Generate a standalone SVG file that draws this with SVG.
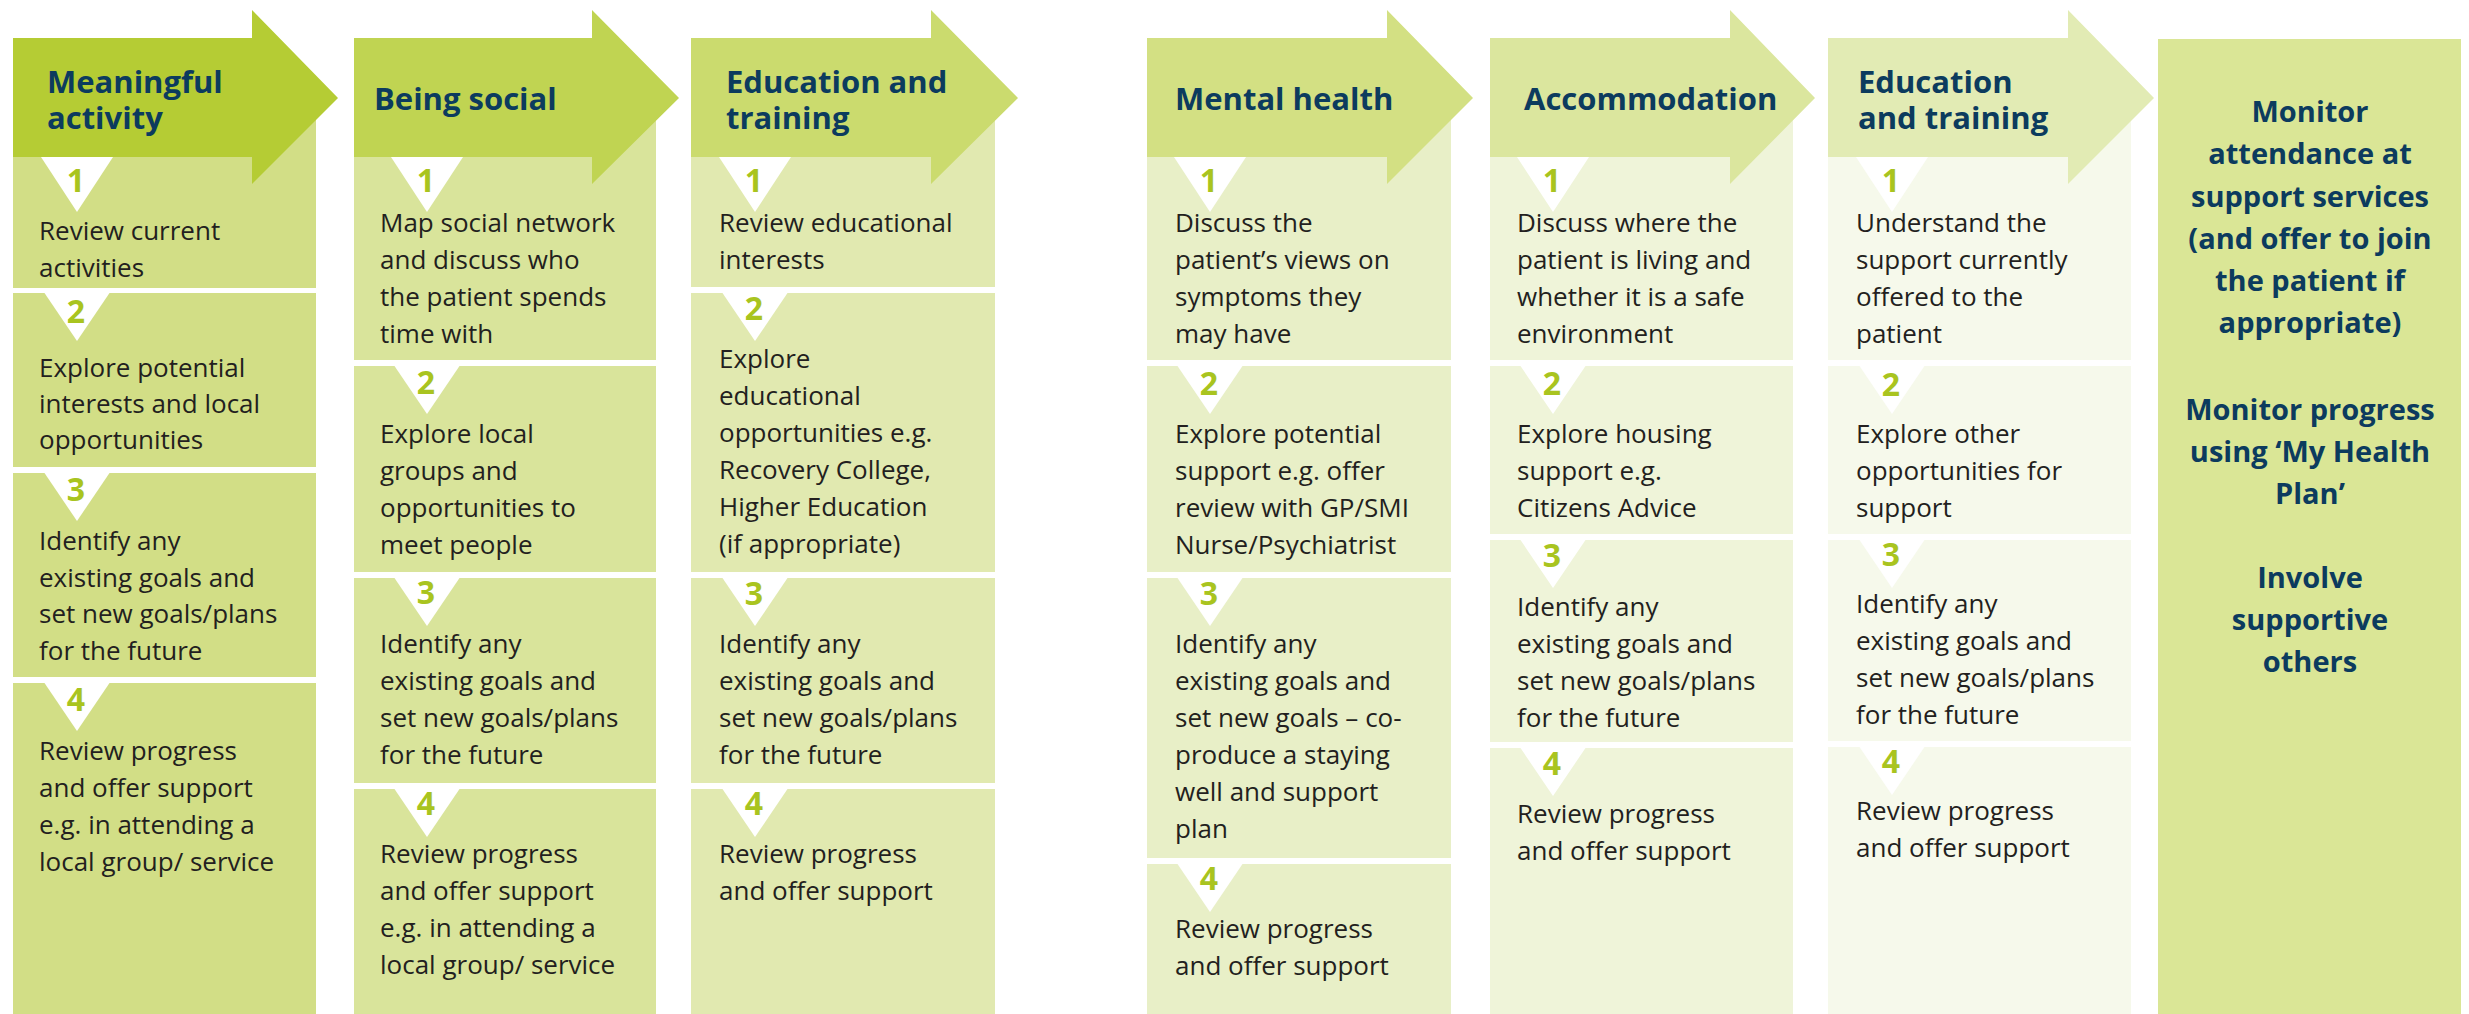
<svg xmlns="http://www.w3.org/2000/svg" width="2469" height="1014" viewBox="0 0 2469 1014">
  <style>
    text { font-family: "Open Sans", "Noto Sans", "Liberation Sans", sans-serif; }
    .hd { font-size: 31px; font-weight: 700; fill: #0c3b5e; }
    .bt { font-size: 26px; font-weight: 400; fill: #231f20; }
    .num { font-size: 32px; font-weight: 700; fill: #a9c41f; text-anchor: middle; }
    .mon { font-size: 29px; font-weight: 700; fill: #0c3b5e; text-anchor: middle; }
    .tri { fill: #ffffff; }
  </style>

  <rect width="2469" height="1014" fill="#ffffff"/>

  <!-- Column 1: Meaningful activity -->
  <g id="meaningful-activity">
    <g fill="#d2de86">
      <rect x="13" y="100" width="303" height="188"/>
      <rect x="13" y="293" width="303" height="174"/>
      <rect x="13" y="473" width="303" height="204"/>
      <rect x="13" y="683" width="303" height="331"/>
    </g>
    <path d="M13 38 H252 V10 L338 98 L252 184 V157 H13 Z" fill="#b5cc34"/>
    <text class="hd" x="47" y="93">Meaningful</text>
    <text class="hd" x="47" y="129">activity</text>
    <path class="tri" d="M41 157 H113 L77 212 Z"/>
    <path class="tri" d="M44.5 293 H109.5 L77 341 Z"/>
    <path class="tri" d="M44.5 473 H109.5 L77 521 Z"/>
    <path class="tri" d="M44.5 683 H109.5 L77 731 Z"/>
    <text class="num" x="76" y="192">1</text>
    <text class="num" x="76" y="323">2</text>
    <text class="num" x="76" y="501">3</text>
    <text class="num" x="76" y="711">4</text>
    <text class="bt" x="39" y="240">Review current</text>
    <text class="bt" x="39" y="277">activities</text>
    <text class="bt" x="39" y="377">Explore potential</text>
    <text class="bt" x="39" y="413">interests and local</text>
    <text class="bt" x="39" y="449">opportunities</text>
    <text class="bt" x="39" y="550">Identify any</text>
    <text class="bt" x="39" y="587">existing goals and</text>
    <text class="bt" x="39" y="623">set new goals/plans</text>
    <text class="bt" x="39" y="660">for the future</text>
    <text class="bt" x="39" y="760">Review progress</text>
    <text class="bt" x="39" y="797">and offer support</text>
    <text class="bt" x="39" y="834">e.g. in attending a</text>
    <text class="bt" x="39" y="871">local group/ service</text>
  </g>

  <!-- Column 2: Being social -->
  <g id="being-social">
    <g fill="#d9e49b">
      <rect x="354" y="100" width="302" height="260"/>
      <rect x="354" y="366" width="302" height="206"/>
      <rect x="354" y="578" width="302" height="205"/>
      <rect x="354" y="789" width="302" height="225"/>
    </g>
    <path d="M354 38 H592 V10 L679 98 L592 184 V157 H354 Z" fill="#c0d452"/>
    <text class="hd" x="374" y="110">Being social</text>
    <path class="tri" d="M391 157 H463 L427 212 Z"/>
    <path class="tri" d="M394.5 366 H459.5 L427 414 Z"/>
    <path class="tri" d="M394.5 578 H459.5 L427 626 Z"/>
    <path class="tri" d="M394.5 789 H459.5 L427 837 Z"/>
    <text class="num" x="426" y="192">1</text>
    <text class="num" x="426" y="394">2</text>
    <text class="num" x="426" y="604">3</text>
    <text class="num" x="426" y="815">4</text>
    <text class="bt" x="380" y="232">Map social network</text>
    <text class="bt" x="380" y="269">and discuss who</text>
    <text class="bt" x="380" y="306">the patient spends</text>
    <text class="bt" x="380" y="343">time with</text>
    <text class="bt" x="380" y="443">Explore local</text>
    <text class="bt" x="380" y="480">groups and</text>
    <text class="bt" x="380" y="517">opportunities to</text>
    <text class="bt" x="380" y="554">meet people</text>
    <text class="bt" x="380" y="653">Identify any</text>
    <text class="bt" x="380" y="690">existing goals and</text>
    <text class="bt" x="380" y="727">set new goals/plans</text>
    <text class="bt" x="380" y="764">for the future</text>
    <text class="bt" x="380" y="863">Review progress</text>
    <text class="bt" x="380" y="900">and offer support</text>
    <text class="bt" x="380" y="937">e.g. in attending a</text>
    <text class="bt" x="380" y="974">local group/ service</text>
  </g>

  <!-- Column 3: Education and training -->
  <g id="education-training-1">
    <g fill="#e1e9b0">
      <rect x="691" y="100" width="304" height="187"/>
      <rect x="691" y="293" width="304" height="279"/>
      <rect x="691" y="578" width="304" height="205"/>
      <rect x="691" y="789" width="304" height="225"/>
    </g>
    <path d="M691 38 H931 V10 L1018 98 L931 184 V157 H691 Z" fill="#cbdb6e"/>
    <text class="hd" x="726" y="93">Education and</text>
    <text class="hd" x="726" y="129">training</text>
    <path class="tri" d="M719 157 H791 L755 212 Z"/>
    <path class="tri" d="M722.5 293 H787.5 L755 341 Z"/>
    <path class="tri" d="M722.5 578 H787.5 L755 626 Z"/>
    <path class="tri" d="M722.5 789 H787.5 L755 837 Z"/>
    <text class="num" x="754" y="192">1</text>
    <text class="num" x="754" y="320">2</text>
    <text class="num" x="754" y="605">3</text>
    <text class="num" x="754" y="815">4</text>
    <text class="bt" x="719" y="232">Review educational</text>
    <text class="bt" x="719" y="269">interests</text>
    <text class="bt" x="719" y="368">Explore</text>
    <text class="bt" x="719" y="405">educational</text>
    <text class="bt" x="719" y="442">opportunities e.g.</text>
    <text class="bt" x="719" y="479">Recovery College,</text>
    <text class="bt" x="719" y="516">Higher Education</text>
    <text class="bt" x="719" y="553">(if appropriate)</text>
    <text class="bt" x="719" y="653">Identify any</text>
    <text class="bt" x="719" y="690">existing goals and</text>
    <text class="bt" x="719" y="727">set new goals/plans</text>
    <text class="bt" x="719" y="764">for the future</text>
    <text class="bt" x="719" y="863">Review progress</text>
    <text class="bt" x="719" y="900">and offer support</text>
  </g>

  <!-- Column 4: Mental health -->
  <g id="mental-health">
    <g fill="#e8efc7">
      <rect x="1147" y="100" width="304" height="260"/>
      <rect x="1147" y="366" width="304" height="206"/>
      <rect x="1147" y="578" width="304" height="280"/>
      <rect x="1147" y="864" width="304" height="150"/>
    </g>
    <path d="M1147 38 H1387 V10 L1473 98 L1387 184 V157 H1147 Z" fill="#d3e083"/>
    <text class="hd" x="1175" y="110">Mental health</text>
    <path class="tri" d="M1174 157 H1246 L1210 212 Z"/>
    <path class="tri" d="M1177.5 366 H1242.5 L1210 414 Z"/>
    <path class="tri" d="M1177.5 578 H1242.5 L1210 626 Z"/>
    <path class="tri" d="M1177.5 864 H1242.5 L1210 912 Z"/>
    <text class="num" x="1209" y="192">1</text>
    <text class="num" x="1209" y="395">2</text>
    <text class="num" x="1209" y="605">3</text>
    <text class="num" x="1209" y="890">4</text>
    <text class="bt" x="1175" y="232">Discuss the</text>
    <text class="bt" x="1175" y="269">patient’s views on</text>
    <text class="bt" x="1175" y="306">symptoms they</text>
    <text class="bt" x="1175" y="343">may have</text>
    <text class="bt" x="1175" y="443">Explore potential</text>
    <text class="bt" x="1175" y="480">support e.g. offer</text>
    <text class="bt" x="1175" y="517">review with GP/SMI</text>
    <text class="bt" x="1175" y="554">Nurse/Psychiatrist</text>
    <text class="bt" x="1175" y="653">Identify any</text>
    <text class="bt" x="1175" y="690">existing goals and</text>
    <text class="bt" x="1175" y="727">set new goals – co-</text>
    <text class="bt" x="1175" y="764">produce a staying</text>
    <text class="bt" x="1175" y="801">well and support</text>
    <text class="bt" x="1175" y="838">plan</text>
    <text class="bt" x="1175" y="938">Review progress</text>
    <text class="bt" x="1175" y="975">and offer support</text>
  </g>

  <!-- Column 5: Accommodation -->
  <g id="accommodation">
    <g fill="#eff4d9">
      <rect x="1490" y="100" width="303" height="260"/>
      <rect x="1490" y="366" width="303" height="168"/>
      <rect x="1490" y="540" width="303" height="202"/>
      <rect x="1490" y="748" width="303" height="266"/>
    </g>
    <path d="M1490 38 H1730 V10 L1815 98 L1730 184 V157 H1490 Z" fill="#dbe69e"/>
    <text class="hd" x="1524" y="110">Accommodation</text>
    <path class="tri" d="M1517 157 H1589 L1553 212 Z"/>
    <path class="tri" d="M1520.5 366 H1585.5 L1553 414 Z"/>
    <path class="tri" d="M1520.5 540 H1585.5 L1553 588 Z"/>
    <path class="tri" d="M1520.5 748 H1585.5 L1553 796 Z"/>
    <text class="num" x="1552" y="192">1</text>
    <text class="num" x="1552" y="395">2</text>
    <text class="num" x="1552" y="567">3</text>
    <text class="num" x="1552" y="775">4</text>
    <text class="bt" x="1517" y="232">Discuss where the</text>
    <text class="bt" x="1517" y="269">patient is living and</text>
    <text class="bt" x="1517" y="306">whether it is a safe</text>
    <text class="bt" x="1517" y="343">environment</text>
    <text class="bt" x="1517" y="443">Explore housing</text>
    <text class="bt" x="1517" y="480">support e.g.</text>
    <text class="bt" x="1517" y="517">Citizens Advice</text>
    <text class="bt" x="1517" y="616">Identify any</text>
    <text class="bt" x="1517" y="653">existing goals and</text>
    <text class="bt" x="1517" y="690">set new goals/plans</text>
    <text class="bt" x="1517" y="727">for the future</text>
    <text class="bt" x="1517" y="823">Review progress</text>
    <text class="bt" x="1517" y="860">and offer support</text>
  </g>

  <!-- Column 6: Education and training -->
  <g id="education-training-2">
    <g fill="#f6f9eb">
      <rect x="1828" y="100" width="303" height="260"/>
      <rect x="1828" y="366" width="303" height="168"/>
      <rect x="1828" y="540" width="303" height="201"/>
      <rect x="1828" y="747" width="303" height="267"/>
    </g>
    <path d="M1828 38 H2068 V10 L2154 98 L2068 184 V157 H1828 Z" fill="#e2ebb4"/>
    <text class="hd" x="1858" y="93">Education</text>
    <text class="hd" x="1858" y="129">and training</text>
    <path class="tri" d="M1856 157 H1928 L1892 212 Z"/>
    <path class="tri" d="M1859.5 366 H1924.5 L1892 414 Z"/>
    <path class="tri" d="M1859.5 540 H1924.5 L1892 588 Z"/>
    <path class="tri" d="M1859.5 747 H1924.5 L1892 795 Z"/>
    <text class="num" x="1891" y="192">1</text>
    <text class="num" x="1891" y="396">2</text>
    <text class="num" x="1891" y="566">3</text>
    <text class="num" x="1891" y="773">4</text>
    <text class="bt" x="1856" y="232">Understand the</text>
    <text class="bt" x="1856" y="269">support currently</text>
    <text class="bt" x="1856" y="306">offered to the</text>
    <text class="bt" x="1856" y="343">patient</text>
    <text class="bt" x="1856" y="443">Explore other</text>
    <text class="bt" x="1856" y="480">opportunities for</text>
    <text class="bt" x="1856" y="517">support</text>
    <text class="bt" x="1856" y="613">Identify any</text>
    <text class="bt" x="1856" y="650">existing goals and</text>
    <text class="bt" x="1856" y="687">set new goals/plans</text>
    <text class="bt" x="1856" y="724">for the future</text>
    <text class="bt" x="1856" y="820">Review progress</text>
    <text class="bt" x="1856" y="857">and offer support</text>
  </g>

  <!-- Monitoring panel -->
  <g id="monitoring">
    <rect x="2158" y="39" width="303" height="975" fill="#dae696"/>
    <text class="mon" x="2310" y="122">Monitor</text>
    <text class="mon" x="2310" y="164">attendance at</text>
    <text class="mon" x="2310" y="207">support services</text>
    <text class="mon" x="2310" y="249">(and offer to join</text>
    <text class="mon" x="2310" y="291">the patient if</text>
    <text class="mon" x="2310" y="333">appropriate)</text>
    <text class="mon" x="2310" y="420">Monitor progress</text>
    <text class="mon" x="2310" y="462">using ‘My Health</text>
    <text class="mon" x="2310" y="504">Plan’</text>
    <text class="mon" x="2310" y="588">Involve</text>
    <text class="mon" x="2310" y="630">supportive</text>
    <text class="mon" x="2310" y="672">others</text>
  </g>
</svg>
